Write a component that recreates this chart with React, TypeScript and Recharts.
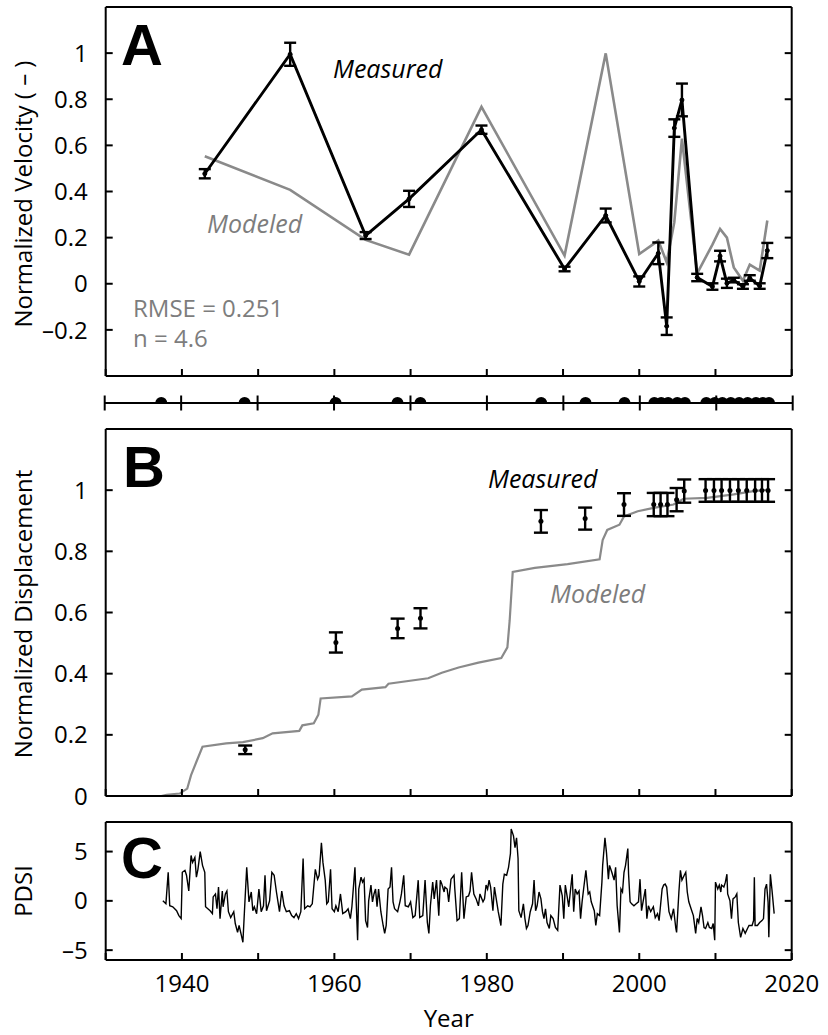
import React from 'react';
import { ComposedChart, Line, Scatter, XAxis, YAxis, ErrorBar } from 'recharts';

const FONT = '"Open Sans", "Noto Sans", sans-serif';
const GRAY = '#8a8a8a';
const TEXT_GRAY = '#7d7d7d';
const TICK_LEN = 7;
const W = 828;
const PLOT_LEFT = 105.7;
const PLOT_RIGHT = 36.3;
const AX = 1; // axis band thickness (Recharts skips zero-size axes)
const AXIS_LINE = { stroke: '#000', strokeWidth: 2 };

// ---- shared x axis ----
const yearDomain = [1930, 2020];
const yearTicks = [1930, 1940, 1950, 1960, 1970, 1980, 1990, 2000, 2010, 2020];
const yearLabels = [1940, 1960, 1980, 2000, 2020];

// ---- Panel A: normalized velocity ----
const velocityYears = [1943.0, 1954.2, 1964.1, 1969.8, 1979.3, 1990.2, 1995.6, 2000.0, 2002.5, 2003.6, 2004.6, 2005.6, 2007.6, 2009.6, 2010.6, 2011.5, 2012.4, 2013.6, 2014.5, 2015.8, 2016.8];
const velocityMeasured = [0.477, 0.995, 0.209, 0.368, 0.668, 0.064, 0.296, 0.01, 0.132, -0.184, 0.675, 0.797, 0.027, -0.012, 0.12, 0.002, 0.016, -0.012, 0.025, -0.01, 0.144];
const velocityError = [0.02, 0.05, 0.015, 0.035, 0.018, 0.01, 0.03, 0.022, 0.047, 0.038, 0.038, 0.071, 0.016, 0.014, 0.023, 0.02, 0.01, 0.01, 0.012, 0.012, 0.033];
const velocityModeled = [0.553, 0.407, 0.19, 0.126, 0.767, 0.122, 0.999, 0.129, 0.187, 0.093, 0.267, 0.629, 0.045, 0.17, 0.238, 0.2, 0.071, 0.013, 0.083, 0.057, 0.274];
const velocityTicks = [-0.2, 0, 0.2, 0.4, 0.6, 0.8, 1];

// ---- image acquisition dates (strip) ----
const referenceYear = 1937.4;
const imageYears = [1948.3, 1960.2, 1968.3, 1971.3, 1987.1, 1992.9, 1998.0, 2001.9, 2002.8, 2003.7, 2004.9, 2005.9, 2008.7, 2009.8, 2010.8, 2011.9, 2013.0, 2014.1, 2015.2, 2016.1, 2016.9];

// ---- Panel B: normalized displacement ----
const displacementMeasured = [0.151, 0.502, 0.548, 0.581, 0.898, 0.907, 0.953, 0.953, 0.953, 0.953, 0.969, 0.997, 0.999, 0.999, 0.999, 0.999, 0.999, 0.999, 0.999, 0.999, 0.999];
const displacementError = [0.014, 0.033, 0.032, 0.033, 0.037, 0.036, 0.037, 0.038, 0.038, 0.038, 0.038, 0.038, 0.037, 0.037, 0.037, 0.037, 0.037, 0.037, 0.037, 0.037, 0.037];
const modeledDispYears = [1937.3, 1938.0, 1939.7, 1940.7, 1941.2, 1941.9, 1942.7, 1945.8, 1948.0, 1950.6, 1951.9, 1955.4, 1955.8, 1957.3, 1957.9, 1958.2, 1962.3, 1963.6, 1966.7, 1967.1, 1972.3, 1974.1, 1976.3, 1978.9, 1981.9, 1982.7, 1983.0, 1983.4, 1986.3, 1990.6, 1994.8, 1995.2, 1995.8, 1997.4, 1998.0, 1999.8, 2001.9, 2004.5, 2005.8, 2008.9, 2012.4, 2015.0, 2017.1];
const modeledDispValues = [0, 0.004, 0.008, 0.024, 0.068, 0.112, 0.161, 0.172, 0.176, 0.189, 0.205, 0.213, 0.231, 0.238, 0.266, 0.319, 0.326, 0.348, 0.356, 0.367, 0.385, 0.403, 0.42, 0.436, 0.451, 0.486, 0.574, 0.733, 0.746, 0.758, 0.774, 0.837, 0.87, 0.887, 0.914, 0.931, 0.942, 0.953, 0.972, 0.975, 0.986, 0.997, 1.002];
const displacementTicks = [0, 0.2, 0.4, 0.6, 0.8, 1];

// ---- Panel C: PDSI ----
const pdsiYears = [
  1937.5, 1937.9, 1938.2, 1938.4, 1938.8, 1939.3, 1939.6, 1939.9, 1940.05, 1940.4, 1940.6, 1940.9, 1941.2, 1941.4, 1941.7, 1941.9, 1942.1, 1942.4, 1942.7, 1943.0,
  1943.1, 1943.4, 1943.7, 1944.0, 1944.1, 1944.4, 1944.6, 1944.8, 1945.0, 1945.3, 1945.4, 1945.7, 1945.9, 1946.1, 1946.4, 1946.8, 1947.0, 1947.3, 1947.5, 1947.8,
  1948.0, 1948.2, 1948.5, 1948.8, 1949.1, 1949.3, 1949.5, 1949.8, 1950.1, 1950.4, 1950.7, 1950.9, 1951.1, 1951.5, 1951.8, 1952.1, 1952.4, 1952.8, 1953.1, 1953.4,
  1953.7, 1954.1, 1954.4, 1954.7, 1955.0, 1955.3, 1955.6, 1955.9, 1956.1, 1956.5, 1956.8, 1957.1, 1957.5, 1957.8, 1958.0, 1958.3, 1958.5, 1958.8, 1959.0, 1959.2,
  1959.5, 1959.7, 1960.0, 1960.2, 1960.5, 1960.8, 1961.1, 1961.5, 1961.8, 1962.1, 1962.3, 1962.7, 1963.05, 1963.2, 1963.5, 1963.7, 1963.9, 1964.1, 1964.35, 1964.5,
  1964.8, 1965.0, 1965.2, 1965.4, 1965.6, 1965.8, 1966.1, 1966.4, 1966.6, 1966.8, 1967.05, 1967.3, 1967.5, 1967.7, 1967.9, 1968.3, 1968.6, 1968.8, 1969.1, 1969.3,
  1969.7, 1970.0, 1970.3, 1970.6, 1971.0, 1971.2, 1971.6, 1971.9, 1972.2, 1972.4, 1972.6, 1972.9, 1973.1, 1973.4, 1973.7, 1973.9, 1974.1, 1974.4, 1974.5, 1974.8,
  1975.0, 1975.3, 1975.7, 1975.8, 1976.1, 1976.4, 1976.7, 1977.0, 1977.3, 1977.6, 1977.8, 1978.0, 1978.3, 1978.6, 1978.9, 1979.1, 1979.5, 1979.7, 1979.9, 1980.1,
  1980.3, 1980.5, 1980.8, 1981.0, 1981.3, 1981.5, 1981.85, 1982.1, 1982.3, 1982.6, 1982.85, 1983.1, 1983.2, 1983.5, 1983.7, 1983.9, 1984.1, 1984.2, 1984.5, 1984.8,
  1985.0, 1985.2, 1985.4, 1985.7, 1986.0, 1986.2, 1986.4, 1986.6, 1986.85, 1987.1, 1987.3, 1987.5, 1987.7, 1987.9, 1988.2, 1988.4, 1988.7, 1989.0, 1989.3, 1989.6,
  1989.9, 1990.1, 1990.3, 1990.55, 1990.75, 1991.2, 1991.4, 1991.6, 1991.85, 1992.1, 1992.3, 1992.5, 1992.7, 1993.0, 1993.3, 1993.5, 1993.7, 1994.1, 1994.3, 1994.5,
  1994.8, 1995.1, 1995.2, 1995.5, 1995.7, 1995.95, 1996.1, 1996.4, 1996.7, 1996.9, 1997.1, 1997.4, 1997.6, 1997.8, 1998.0, 1998.2, 1998.5, 1998.6, 1998.8, 1999.0,
  1999.3, 1999.6, 1999.9, 2000.1, 2000.3, 2000.5, 2000.8, 2001.0, 2001.2, 2001.5, 2001.85, 2002.1, 2002.4, 2002.6, 2003.0, 2003.2, 2003.4, 2003.6, 2003.9, 2004.2,
  2004.5, 2004.8, 2004.9, 2005.2, 2005.4, 2005.6, 2005.9, 2006.1, 2006.3, 2006.5, 2006.8, 2007.1, 2007.4, 2007.6, 2007.8, 2008.1, 2008.3, 2008.5, 2008.7, 2009.0,
  2009.2, 2009.5, 2009.7, 2009.9, 2010.0, 2010.3, 2010.5, 2010.7, 2010.8, 2011.1, 2011.3, 2011.5, 2011.6, 2011.9, 2012.1, 2012.3, 2012.6, 2012.8, 2013.0, 2013.3,
  2013.6, 2013.9, 2014.2, 2014.4, 2014.8, 2015.0, 2015.1, 2015.2, 2015.5, 2015.8, 2016.1, 2016.3, 2016.5, 2016.7, 2016.9, 2017.0, 2017.2, 2017.4, 2017.7,
];
const pdsiValues = [
  0, -0.3, 2.9, -0.5, -0.6, -1.0, -1.5, -1.8, 2.9, 3.1, 2.6, 1.0, 4.6, 3.9, 4.4, 2.4, 3.2, 5.0, 3.6, 2.9,
  -0.6, -0.8, -1.0, -1.3, 0.4, 0.7, -0.8, 1.4, -1.8, 1.0, -0.6, 0.7, 1.0, -1.1, -1.7, -1.1, -2.3, -3.2, -2.5, -3.5,
  -4.2, -1.1, 3.4, -0.1, 0.9, -1.0, -0.6, -1.3, 1.2, -1.1, -0.5, 2.6, -1.0, 0, 2.9, 2.6, 0.9, -1.1, 1.0, -0.5,
  -1.1, -1.0, -1.5, -1.7, -1.3, -1.8, -1.1, 4.3, -0.8, -0.5, -0.6, -0.3, 3.2, 2.2, 2.6, 5.9, 3.9, 2.1, -0.3, -0.1,
  3.2, -0.8, -1.1, -0.5, -1.1, 0.7, -1.3, -1.1, -0.8, -1.8, -0.6, 3.4, -4.0, 1.2, 2.4, 1.9, 2.2, -2.0, -2.7, 0,
  1.6, -0.1, 0.7, 1.2, -0.6, 1.2, -1.1, -2.5, -3.3, -2.5, 1.2, 1.4, 3.4, -0.1, -0.8, -1.1, -0.1, 0.7, 2.6, -0.5,
  -0.6, -0.1, -1.7, -1.5, 2.1, -1.7, -1.5, 2.1, -2.2, -3.3, -0.5, 1.9, 0.2, 2.1, -1.5, 2.1, 1.7, 0.9, 1.4, 1.2,
  -0.1, 2.2, 2.6, 1.2, -2.0, -1.8, 2.9, -1.8, 0.4, 0.5, 1.0, 2.9, 0.7, 0.2, -0.5, 0.7, -0.1, 0.2, 1.6, 1.2,
  2.1, 1.4, -1.0, 1.4, -0.1, -1.1, -2.5, 1.7, 2.7, 2.6, 3.4, 4.8, 7.3, 6.6, 5.4, 6.4, 4.3, -1.0, -1.7, -0.3,
  -1.8, -2.8, -2.5, -1.1, -0.3, 2.1, -1.0, -0.5, 0.9, 0.2, -1.1, -1.8, -0.8, -2.2, -2.8, -1.5, -1.8, -2.7, -3.0, 1.6,
  0.5, -1.8, 1.6, 0.4, -0.6, 2.7, -1.1, 1.2, 0.7, 1.0, -1.8, -0.1, 1.2, 3.1, 0.7, 0.9, -0.1, -1.0, -2.5, -1.3,
  -1.5, 1.9, 3.6, 6.4, 4.9, 2.2, 3.6, 2.9, 2.1, 3.4, -0.5, -3.2, 1.2, 0.9, 2.9, 3.6, 5.3, 2.7, -0.1, -0.3,
  -0.5, -0.3, -0.1, 2.2, -1.0, -0.1, 1.2, -1.8, -0.5, -1.1, -0.6, -1.7, -1.3, -2.0, 1.2, 1.6, 1.7, 1.4, -1.1, -1.8,
  -0.8, -2.8, -3.2, 0.9, 3.1, 2.1, 2.6, 2.9, 0.9, -0.1, -0.8, -1.5, -3.3, -1.8, -2.2, -0.6, -1.5, -2.7, -2.8, -2.2,
  -2.7, -2.8, -2.3, -4.0, 1.9, 1.2, 1.6, 0.9, 1.6, 1.4, 1.9, 2.7, 0.7, 0, -1.8, 0.2, 0.4, 0.7, -2.2, -3.7,
  -2.8, -3.3, -2.8, -2.5, -2.5, -2.0, 2.4, -2.5, -2.5, -2.2, -2.0, -1.8, 1.2, 1.7, -0.1, -3.7, 2.7, 1.2, -1.3,
];
const pdsiTicks = [-5, 0, 5];

// ---- assembled datasets ----
const velocityMeasuredData = velocityYears.map((x, i) => ({ x, y: velocityMeasured[i], err: velocityError[i] }));
const velocityModeledData = velocityYears.map((x, i) => ({ x, y: velocityModeled[i] }));
const stripData = [referenceYear, ...imageYears].map((x) => ({ x, y: 0 }));
const displacementData = imageYears.map((x, i) => ({ x, y: displacementMeasured[i], err: displacementError[i] }));
const modeledDispData = modeledDispYears.map((x, i) => ({ x, y: modeledDispValues[i] }));
const pdsiData = pdsiYears.map((x, i) => ({ x, y: pdsiValues[i] }));

const fmt = (v: number) => (v < 0 ? '\u2013' + Math.abs(v) : String(v));

// ---- tick renderers (inward ticks) ----
const bottomTick = (labels: number[] | null) => (p: any) => {
  const { x, y, payload } = p;
  const v = payload.value;
  return (
    <g>
      <line x1={x} x2={x} y1={y} y2={y - TICK_LEN} stroke="#000" strokeWidth={2} />
      {labels && labels.includes(v) ? (
        <text x={x} y={y + 32} textAnchor="middle" fontSize={24} fontFamily={FONT} fill="#000">{v}</text>
      ) : null}
    </g>
  );
};
const topTick = (p: any) => {
  const { x, y } = p;
  return <line x1={x} x2={x} y1={y} y2={y + TICK_LEN} stroke="#000" strokeWidth={2} />;
};
const leftTick = (p: any) => {
  const { x, y, payload } = p;
  return (
    <g>
      <line x1={x} x2={x + TICK_LEN} y1={y} y2={y} stroke="#000" strokeWidth={2} />
      <text x={x - 18} y={y} dy="0.36em" textAnchor="end" fontSize={24} fontFamily={FONT} fill="#000">{fmt(payload.value)}</text>
    </g>
  );
};
const rightTick = (p: any) => {
  const { x, y } = p;
  return <line x1={x} x2={x - TICK_LEN} y1={y} y2={y} stroke="#000" strokeWidth={2} />;
};
const stripTick = (p: any) => {
  const { x, y } = p;
  return <line x1={x} x2={x} y1={y - 7.5} y2={y + 7.5} stroke="#000" strokeWidth={2} />;
};

const axisCommon = { tickSize: 0, tickMargin: 0, tickLine: false, axisLine: AXIS_LINE, allowDataOverflow: true, interval: 0 as const };

const marginFor = (top: number, bottom: number) => ({ top: top - AX, right: PLOT_RIGHT - AX, bottom: bottom - AX, left: PLOT_LEFT - AX });

function PanelA() {
  return (
    <ComposedChart width={W} height={390} margin={marginFor(7, 14)}>
      <XAxis dataKey="x" type="number" domain={yearDomain} ticks={yearTicks} height={AX} {...axisCommon} tick={bottomTick(null)} />
      <XAxis xAxisId="top" orientation="top" type="number" domain={yearDomain} ticks={yearTicks} height={AX} {...axisCommon} tick={topTick} />
      <YAxis type="number" domain={[-0.4, 1.2]} ticks={velocityTicks} width={AX} {...axisCommon} tick={leftTick} />
      <YAxis yAxisId="right" orientation="right" type="number" domain={[-0.4, 1.2]} ticks={velocityTicks} width={AX} {...axisCommon} tick={rightTick} />
      <Line data={velocityModeledData} dataKey="y" stroke={GRAY} strokeWidth={2.6} dot={false} isAnimationActive={false} />
      <Line data={velocityMeasuredData} dataKey="y" stroke="#000" strokeWidth={2.9} dot={{ r: 2, fill: '#000', stroke: '#000', strokeWidth: 1 }} isAnimationActive={false}>
        <ErrorBar dataKey="err" width={6} stroke="#000" strokeWidth={2.4} direction="y" />
      </Line>
    </ComposedChart>
  );
}

function Strip() {
  return (
    <ComposedChart width={W} height={30} margin={marginFor(8, 15)}>
      <XAxis dataKey="x" type="number" domain={yearDomain} ticks={yearTicks} height={AX} {...axisCommon} tick={stripTick} />
      <YAxis dataKey="y" type="number" domain={[0, 1]} width={AX} hide allowDataOverflow />
      <Scatter data={stripData} dataKey="y" isAnimationActive={false}
        shape={(p: any) => <circle cx={p.cx} cy={p.cy} r={6} fill="#000" />} />
    </ComposedChart>
  );
}

function PanelB() {
  return (
    <ComposedChart width={W} height={395} margin={marginFor(9, 19)}>
      <XAxis dataKey="x" type="number" domain={yearDomain} ticks={yearTicks} height={AX} {...axisCommon} tick={bottomTick(null)} />
      <XAxis xAxisId="top" orientation="top" type="number" domain={yearDomain} ticks={yearTicks} height={AX} {...axisCommon} tick={topTick} />
      <YAxis dataKey="y" type="number" domain={[0, 1.2]} ticks={displacementTicks} width={AX} {...axisCommon} tick={leftTick} />
      <YAxis yAxisId="right" orientation="right" type="number" domain={[0, 1.2]} ticks={displacementTicks} width={AX} {...axisCommon} tick={rightTick} />
      <Line data={modeledDispData} dataKey="y" stroke={GRAY} strokeWidth={2.2} dot={false} isAnimationActive={false} />
      <Scatter data={displacementData} dataKey="y" isAnimationActive={false}
        shape={(p: any) => <circle cx={p.cx} cy={p.cy} r={2.5} fill="#000" />}>
        <ErrorBar dataKey="err" width={7} stroke="#000" strokeWidth={2.4} direction="y" />
      </Scatter>
    </ComposedChart>
  );
}

function PanelC() {
  return (
    <ComposedChart width={W} height={190} margin={marginFor(7, 45)}>
      <XAxis dataKey="x" type="number" domain={yearDomain} ticks={yearTicks} height={AX} {...axisCommon} tick={bottomTick(yearLabels)} />
      <XAxis xAxisId="top" orientation="top" type="number" domain={yearDomain} ticks={yearTicks} height={AX} {...axisCommon} tick={topTick} />
      <YAxis type="number" domain={[-6, 8]} ticks={pdsiTicks} width={AX} {...axisCommon} tick={leftTick} />
      <YAxis yAxisId="right" orientation="right" type="number" domain={[-6, 8]} ticks={pdsiTicks} width={AX} {...axisCommon} tick={rightTick} />
      <Line data={pdsiData} dataKey="y" stroke="#000" strokeWidth={1.4} dot={false} isAnimationActive={false} />
    </ComposedChart>
  );
}

const abs = (top: number): React.CSSProperties => ({ position: 'absolute', left: 0, top });

export default function App() {
  const letter = { fontFamily: '"Liberation Sans", Arial, sans-serif', fontWeight: 900, fontSize: 58, fill: '#000' } as any;
  const ital = { fontFamily: FONT, fontStyle: 'italic', fontSize: 25 } as any;
  const plain = { fontFamily: FONT, fontSize: 24 } as any;
  const axisTitle = { fontFamily: FONT, fontSize: 24, fill: '#000' } as any;
  return (
    <div style={{ position: 'absolute', left: 0, top: 0, width: W, height: 1035, background: '#fff', overflow: 'hidden' }}>
      <div style={abs(0)}><PanelA /></div>
      <div style={abs(388)}><Strip /></div>
      <div style={abs(420)}><PanelB /></div>
      <div style={abs(815)}><PanelC /></div>
      <svg width={W} height={1035} style={{ position: 'absolute', left: 0, top: 0, pointerEvents: 'none' }}>
        <text x={121} y={65} {...letter}>A</text>
        <text x={123} y={487} {...letter}>B</text>
        <text x={121} y={878} {...letter}>C</text>
        <text x={333} y={78} {...ital} fill="#000">Measured</text>
        <text x={207} y={233} {...ital} fill={TEXT_GRAY}>Modeled</text>
        <text x={133} y={317} {...plain} fill={TEXT_GRAY}>RMSE = 0.251</text>
        <text x={133} y={347} {...plain} fill={TEXT_GRAY}>n = 4.6</text>
        <text x={488} y={488} {...ital} fill="#000">Measured</text>
        <text x={550} y={603} {...ital} fill={TEXT_GRAY}>Modeled</text>
        <text x={32} y={194} transform="rotate(-90 32 194)" textAnchor="middle" {...axisTitle}>Normalized Velocity ( – )</text>
        <text x={32} y={614} transform="rotate(-90 32 614)" textAnchor="middle" {...axisTitle}>Normalized Displacement</text>
        <text x={32} y={891} transform="rotate(-90 32 891)" textAnchor="middle" {...axisTitle}>PDSI</text>
        <text x={448.7} y={1027} textAnchor="middle" {...axisTitle}>Year</text>
      </svg>
    </div>
  );
}
